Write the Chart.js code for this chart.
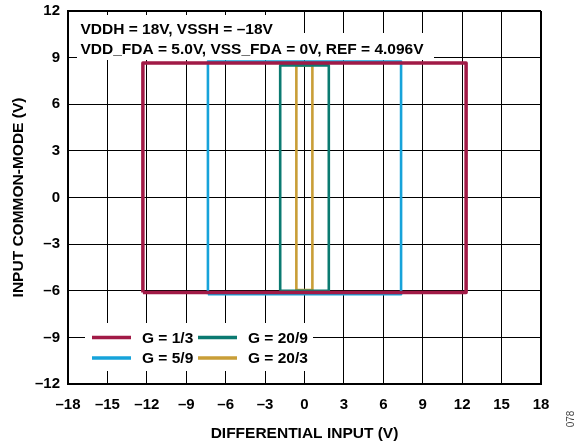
<!DOCTYPE html>
<html>
<head>
<meta charset="utf-8">
<script src="https://cdn.jsdelivr.net/npm/chart.js@4/dist/chart.umd.min.js"></script>
<style>
  html, body { margin: 0; padding: 0; background: #fff; }
  #wrap { width: 577px; height: 446px; position: relative; }
</style>
</head>
<body>
<div id="wrap"><canvas id="c" width="577" height="446"></canvas></div>
<script>
// ---- data ----
const seriesLabels = ['G = 1/3', 'G = 5/9', 'G = 20/9', 'G = 20/3'];
const xLeft   = [-12.3, -7.35, -1.85, -0.62];
const xRight  = [12.3, 7.35, 1.85, 0.6];
const yTop    = [8.65, 8.74, 8.5, 8.5];
const yBottom = [-6.12, -6.22, -6.0, -5.95];
const xTickValues = [-18, -15, -12, -9, -6, -3, 0, 3, 6, 9, 12, 15, 18];
const yTickValues = [-12, -9, -6, -3, 0, 3, 6, 9, 12];
const noteLines = ['VDDH = 18V, VSSH = \u201318V', 'VDD_FDA = 5.0V, VSS_FDA = 0V, REF = 4.096V'];
const xTitle = 'DIFFERENTIAL INPUT (V)';
const yTitle = 'INPUT COMMON-MODE (V)';
const figId = '078';

// ---- styles ----
const seriesColors = ['#A11A46', '#16A3DA', '#0B7A71', '#C99E37'];
const seriesWidths = [3.5, 2.6, 2.6, 2.6];
const FONT = '"Liberation Sans", Arial, sans-serif';

const datasets = seriesLabels.map((lab, i) => ({
  label: lab,
  data: [
    { x: xLeft[i],  y: yBottom[i] },
    { x: xLeft[i],  y: yTop[i] },
    { x: xRight[i], y: yTop[i] },
    { x: xRight[i], y: yBottom[i] },
    { x: xLeft[i],  y: yBottom[i] }
  ],
  showLine: true,
  borderColor: seriesColors[i],
  backgroundColor: seriesColors[i],
  borderWidth: seriesWidths[i],
  borderJoinStyle: 'round',
  pointRadius: 0,
  pointHoverRadius: 0,
  tension: 0,
  fill: false
}));

const fmt = v => (v < 0 ? '\u2013' + Math.abs(v) : String(v));

const overlay = {
  id: 'overlay',
  beforeDatasetsDraw(chart) {
    const ctx = chart.ctx;
    ctx.save();
    // white masks over grid
    ctx.fillStyle = '#fff';
    ctx.fillRect(77, 15, 213, 20);
    ctx.fillRect(77, 33, 357, 27);
    ctx.fillRect(85, 323, 228, 48);
    // annotation text
    ctx.fillStyle = '#000';
    ctx.font = 'bold 15.5px ' + FONT;
    ctx.textBaseline = 'alphabetic';
    ctx.textAlign = 'left';
    ctx.fillText(noteLines[0], 80.5, 34.3);
    ctx.fillText(noteLines[1], 80.5, 54.3);
    // legend (column-major, 2 rows)
    const colLineX = [92, 198];
    const colTextX = [142, 248];
    const rowY = [337.5, 358];
    chart.data.datasets.forEach((ds, i) => {
      const col = Math.floor(i / 2), row = i % 2;
      ctx.strokeStyle = ds.borderColor;
      ctx.lineWidth = 3.5;
      ctx.lineCap = 'butt';
      ctx.beginPath();
      ctx.moveTo(colLineX[col], rowY[row]);
      ctx.lineTo(colLineX[col] + 39, rowY[row]);
      ctx.stroke();
      ctx.fillStyle = '#000';
      ctx.textBaseline = 'middle';
      ctx.fillText(ds.label, colTextX[col], rowY[row] + 1);
    });
    ctx.restore();
  },
  afterDraw(chart) {
    const ctx = chart.ctx;
    ctx.save();
    ctx.translate(571, 419);
    ctx.rotate(-Math.PI / 2);
    ctx.fillStyle = '#444';
    ctx.font = '10px ' + FONT;
    ctx.textAlign = 'center';
    ctx.textBaseline = 'middle';
    ctx.fillText(figId, 0, 0);
    ctx.restore();
  }
};

const gridW = (max) => (c) => (c.tick && c.tick.value === max ? 2 : 1);

new Chart(document.getElementById('c'), {
  type: 'scatter',
  data: { datasets },
  plugins: [overlay],
  options: {
    responsive: false,
    animation: false,
    devicePixelRatio: 1,
    layout: { padding: { top: 11, right: 36, left: 0, bottom: 0 } },
    plugins: { legend: { display: false }, tooltip: { enabled: false }, title: { display: false } },
    scales: {
      x: {
        type: 'linear',
        min: -18, max: 18,
        afterBuildTicks: s => { s.ticks = xTickValues.map(v => ({ value: v })); },
        afterFit: s => { s.height = 62; s.paddingLeft = 0; s.paddingRight = 0; },
        grid: { color: '#000', lineWidth: gridW(18), drawTicks: false },
        border: { color: '#000', width: 2 },
        ticks: {
          padding: 12, color: '#000', maxRotation: 0, autoSkip: false,
          font: { family: FONT, size: 15, weight: 'bold' },
          callback: v => fmt(v)
        },
        title: {
          display: true, text: xTitle, color: '#000',
          font: { family: FONT, size: 15.5, weight: 'bold' },
          padding: { top: 0, bottom: 3 }
        }
      },
      y: {
        type: 'linear',
        min: -12, max: 12,
        afterBuildTicks: s => { s.ticks = yTickValues.map(v => ({ value: v })); },
        afterFit: s => { s.width = 68; s.paddingTop = 0; s.paddingBottom = 0; },
        grid: { color: '#000', lineWidth: gridW(12), drawTicks: false },
        border: { color: '#000', width: 2 },
        ticks: {
          padding: 8, color: '#000', autoSkip: false,
          font: { family: FONT, size: 15, weight: 'bold' },
          callback: v => fmt(v)
        },
        title: {
          display: true, text: yTitle, color: '#000',
          font: { family: FONT, size: 15.5, weight: 'bold' },
          padding: { top: 9, bottom: 0 }
        }
      }
    }
  }
});
</script>
</body>
</html>
